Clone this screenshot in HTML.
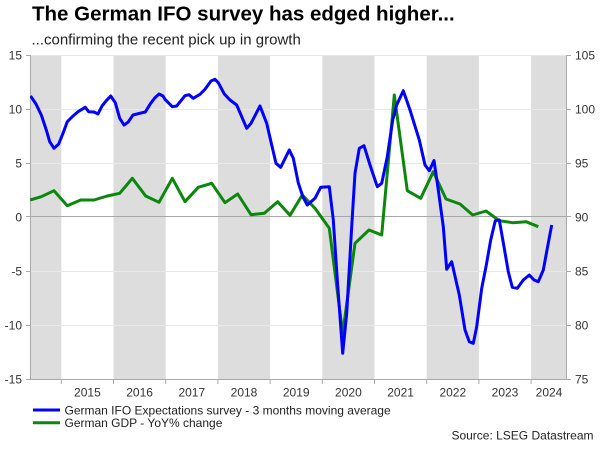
<!DOCTYPE html>
<html>
<head>
<meta charset="utf-8">
<style>
html,body{margin:0;padding:0;background:#fff;}
svg{display:block;}
text{font-family:"Liberation Sans",Arial,sans-serif;}
</style>
</head>
<body>
<svg width="600" height="449" viewBox="0 0 600 449" xmlns="http://www.w3.org/2000/svg">
<rect width="600" height="449" fill="#fff"/>
<!-- Title -->
<text x="32" y="20.7" font-size="20.5" font-weight="bold" fill="#000">The German IFO survey has edged higher...</text>
<text x="31.5" y="44.3" font-size="15" fill="#222">...confirming the recent pick up in growth</text>

<!-- bands -->
<g fill="#dddddd">
<rect x="30" y="55" width="31.3" height="324"/>
<rect x="113.5" y="55" width="52.2" height="324"/>
<rect x="217.9" y="55" width="52.2" height="324"/>
<rect x="322.3" y="55" width="52.2" height="324"/>
<rect x="426.7" y="55" width="52.2" height="324"/>
<rect x="531.1" y="55" width="35.9" height="324"/>
</g>
<!-- gridlines -->
<g stroke="#e8e8e8" stroke-width="1">
<line x1="30" y1="55.5" x2="567" y2="55.5"/>
<line x1="30" y1="109.5" x2="567" y2="109.5"/>
<line x1="30" y1="163.5" x2="567" y2="163.5"/>
<line x1="30" y1="271.5" x2="567" y2="271.5"/>
<line x1="30" y1="325.5" x2="567" y2="325.5"/>
</g>
<line x1="30" y1="216.5" x2="567" y2="216.5" stroke="#a8a8a8" stroke-width="1"/>

<!-- axes -->
<g stroke="#aaaaaa" stroke-width="1">
<line x1="30.5" y1="55" x2="30.5" y2="379"/>
<line x1="566.5" y1="55" x2="566.5" y2="379"/>
<line x1="30" y1="379.5" x2="567" y2="379.5"/>
<line x1="26" y1="55.5" x2="30" y2="55.5"/>
<line x1="26" y1="109.5" x2="30" y2="109.5"/>
<line x1="26" y1="163.5" x2="30" y2="163.5"/>
<line x1="26" y1="216.5" x2="30" y2="216.5"/>
<line x1="26" y1="271.5" x2="30" y2="271.5"/>
<line x1="26" y1="325.5" x2="30" y2="325.5"/>
<line x1="26" y1="379.5" x2="30" y2="379.5"/>
<line x1="567" y1="55.5" x2="571" y2="55.5"/>
<line x1="567" y1="109.5" x2="571" y2="109.5"/>
<line x1="567" y1="163.5" x2="571" y2="163.5"/>
<line x1="567" y1="216.5" x2="571" y2="216.5"/>
<line x1="567" y1="271.5" x2="571" y2="271.5"/>
<line x1="567" y1="325.5" x2="571" y2="325.5"/>
<line x1="567" y1="379.5" x2="571" y2="379.5"/>
<line x1="61.3" y1="379" x2="61.3" y2="384"/>
<line x1="113.5" y1="379" x2="113.5" y2="384"/>
<line x1="165.7" y1="379" x2="165.7" y2="384"/>
<line x1="217.9" y1="379" x2="217.9" y2="384"/>
<line x1="270.1" y1="379" x2="270.1" y2="384"/>
<line x1="322.3" y1="379" x2="322.3" y2="384"/>
<line x1="374.5" y1="379" x2="374.5" y2="384"/>
<line x1="426.7" y1="379" x2="426.7" y2="384"/>
<line x1="478.9" y1="379" x2="478.9" y2="384"/>
<line x1="531.1" y1="379" x2="531.1" y2="384"/>
</g>

<!-- left labels -->
<g font-size="12" fill="#333" text-anchor="end">
<text x="22" y="59.3">15</text>
<text x="22" y="113.3">10</text>
<text x="22" y="167.3">5</text>
<text x="22" y="221.3">0</text>
<text x="22" y="275.3">-5</text>
<text x="22" y="329.3">-10</text>
<text x="22" y="383.3">-15</text>
</g>
<!-- right labels -->
<g font-size="12" fill="#333" text-anchor="start">
<text x="575" y="59.3">105</text>
<text x="575" y="113.3">100</text>
<text x="575" y="167.3">95</text>
<text x="575" y="221.3">90</text>
<text x="575" y="275.3">85</text>
<text x="575" y="329.3">80</text>
<text x="575" y="383.3">75</text>
</g>
<!-- year labels -->
<g font-size="12" fill="#333" text-anchor="middle">
<text x="87.4" y="396.7">2015</text>
<text x="139.6" y="396.7">2016</text>
<text x="191.8" y="396.7">2017</text>
<text x="244" y="396.7">2018</text>
<text x="296.2" y="396.7">2019</text>
<text x="348.4" y="396.7">2020</text>
<text x="400.6" y="396.7">2021</text>
<text x="452.8" y="396.7">2022</text>
<text x="505" y="396.7">2023</text>
<text x="549" y="396.7">2024</text>
</g>

<!-- series -->
<svg x="30" y="55" width="537" height="324" viewBox="30 55 537 324" overflow="hidden">
<polyline fill="none" stroke="#0b870b" stroke-width="3" stroke-linejoin="round" points="
30,200 41.3,196.7 54,190.7 67.3,205.7 80.7,200 94,200 107.3,196 119.7,193.3 132.3,178.3 145.7,196 159,202.3 172.3,178.3 185,201.7 198.3,187.3 211.7,183.3 225,202.7 237.7,194 251,214.7 264.3,213.3 277.7,201.7 290,215.3 302.3,195 315,208.3 329.3,228.3 342.7,333.3 355,243.3 369,230 381.7,235 394.3,95 407.3,190.7 420.7,198.3 433.3,171.7 446,199 460,204 472.7,215 486,211 499.3,220.7 512.7,222.7 526,221.7 538.3,226.7"/>
<polyline fill="none" stroke="#0000ff" stroke-width="3" stroke-linejoin="round" points="
30.5,96 36,104 41.3,115 46.3,130 49.7,141.7 54,148.3 58.7,144 63,133.3 67.3,121.7 73,116 78,111.7 85.3,107.3 88.7,111.7 94,112 98,114 102,106 106.3,100.7 110.7,96 115.3,102.7 119.7,118.3 124,125 128,122.3 133,115 139.7,113.3 145.3,112 150.7,103.3 154.7,98 159,94 163,96 165,99.3 172.3,106.7 176.7,106 185,95.7 189,94.7 193.3,98.3 200,94.3 205,89.3 211,81 215,79.3 218.3,82.7 224.3,94 230,100 236.7,105 246.7,128.3 251,123.3 260,106 266.7,123.3 271.7,145 276,163.3 280.7,167.3 289.3,150 293.3,158.3 298.3,183 303,197 307.3,205 315,198.3 320.7,187.3 329.3,186.7 333.3,220 337.3,280 342.7,353.3 346.7,313.3 351.7,226.7 355,173.3 359.3,148.3 364,145.7 370,165 377.3,186.7 381.7,183.3 387.3,156.7 392.7,120 396.7,105 403.3,90.7 410,110 419.3,140 425,165 429.3,170.7 434,160.5 438.3,190 443.3,226.7 446.7,269.3 451.7,261.7 459.3,295 465,330 469.3,341.7 473.3,343.3 476.7,326.7 481.7,288.3 486,266.7 490.7,240 495.3,220.7 499.3,220 504,246.7 508.3,271.7 512.3,287.3 517.3,288.3 523.3,280 529.3,275 534,280 538.3,281.7 543.3,270 547.3,248.3 551.7,225"/>
</svg>

<!-- legend -->
<line x1="33" y1="410" x2="60" y2="410" stroke="#0000ff" stroke-width="3"/>
<line x1="33" y1="422.7" x2="60" y2="422.7" stroke="#0b870b" stroke-width="3"/>
<g font-size="12" fill="#222">
<text x="64.5" y="414.3">German IFO Expectations survey - 3 months moving average</text>
<text x="64.5" y="427">German GDP - YoY% change</text>
</g>
<text x="593.5" y="439.3" font-size="12" fill="#222" text-anchor="end">Source: LSEG Datastream</text>
</svg>
</body>
</html>
